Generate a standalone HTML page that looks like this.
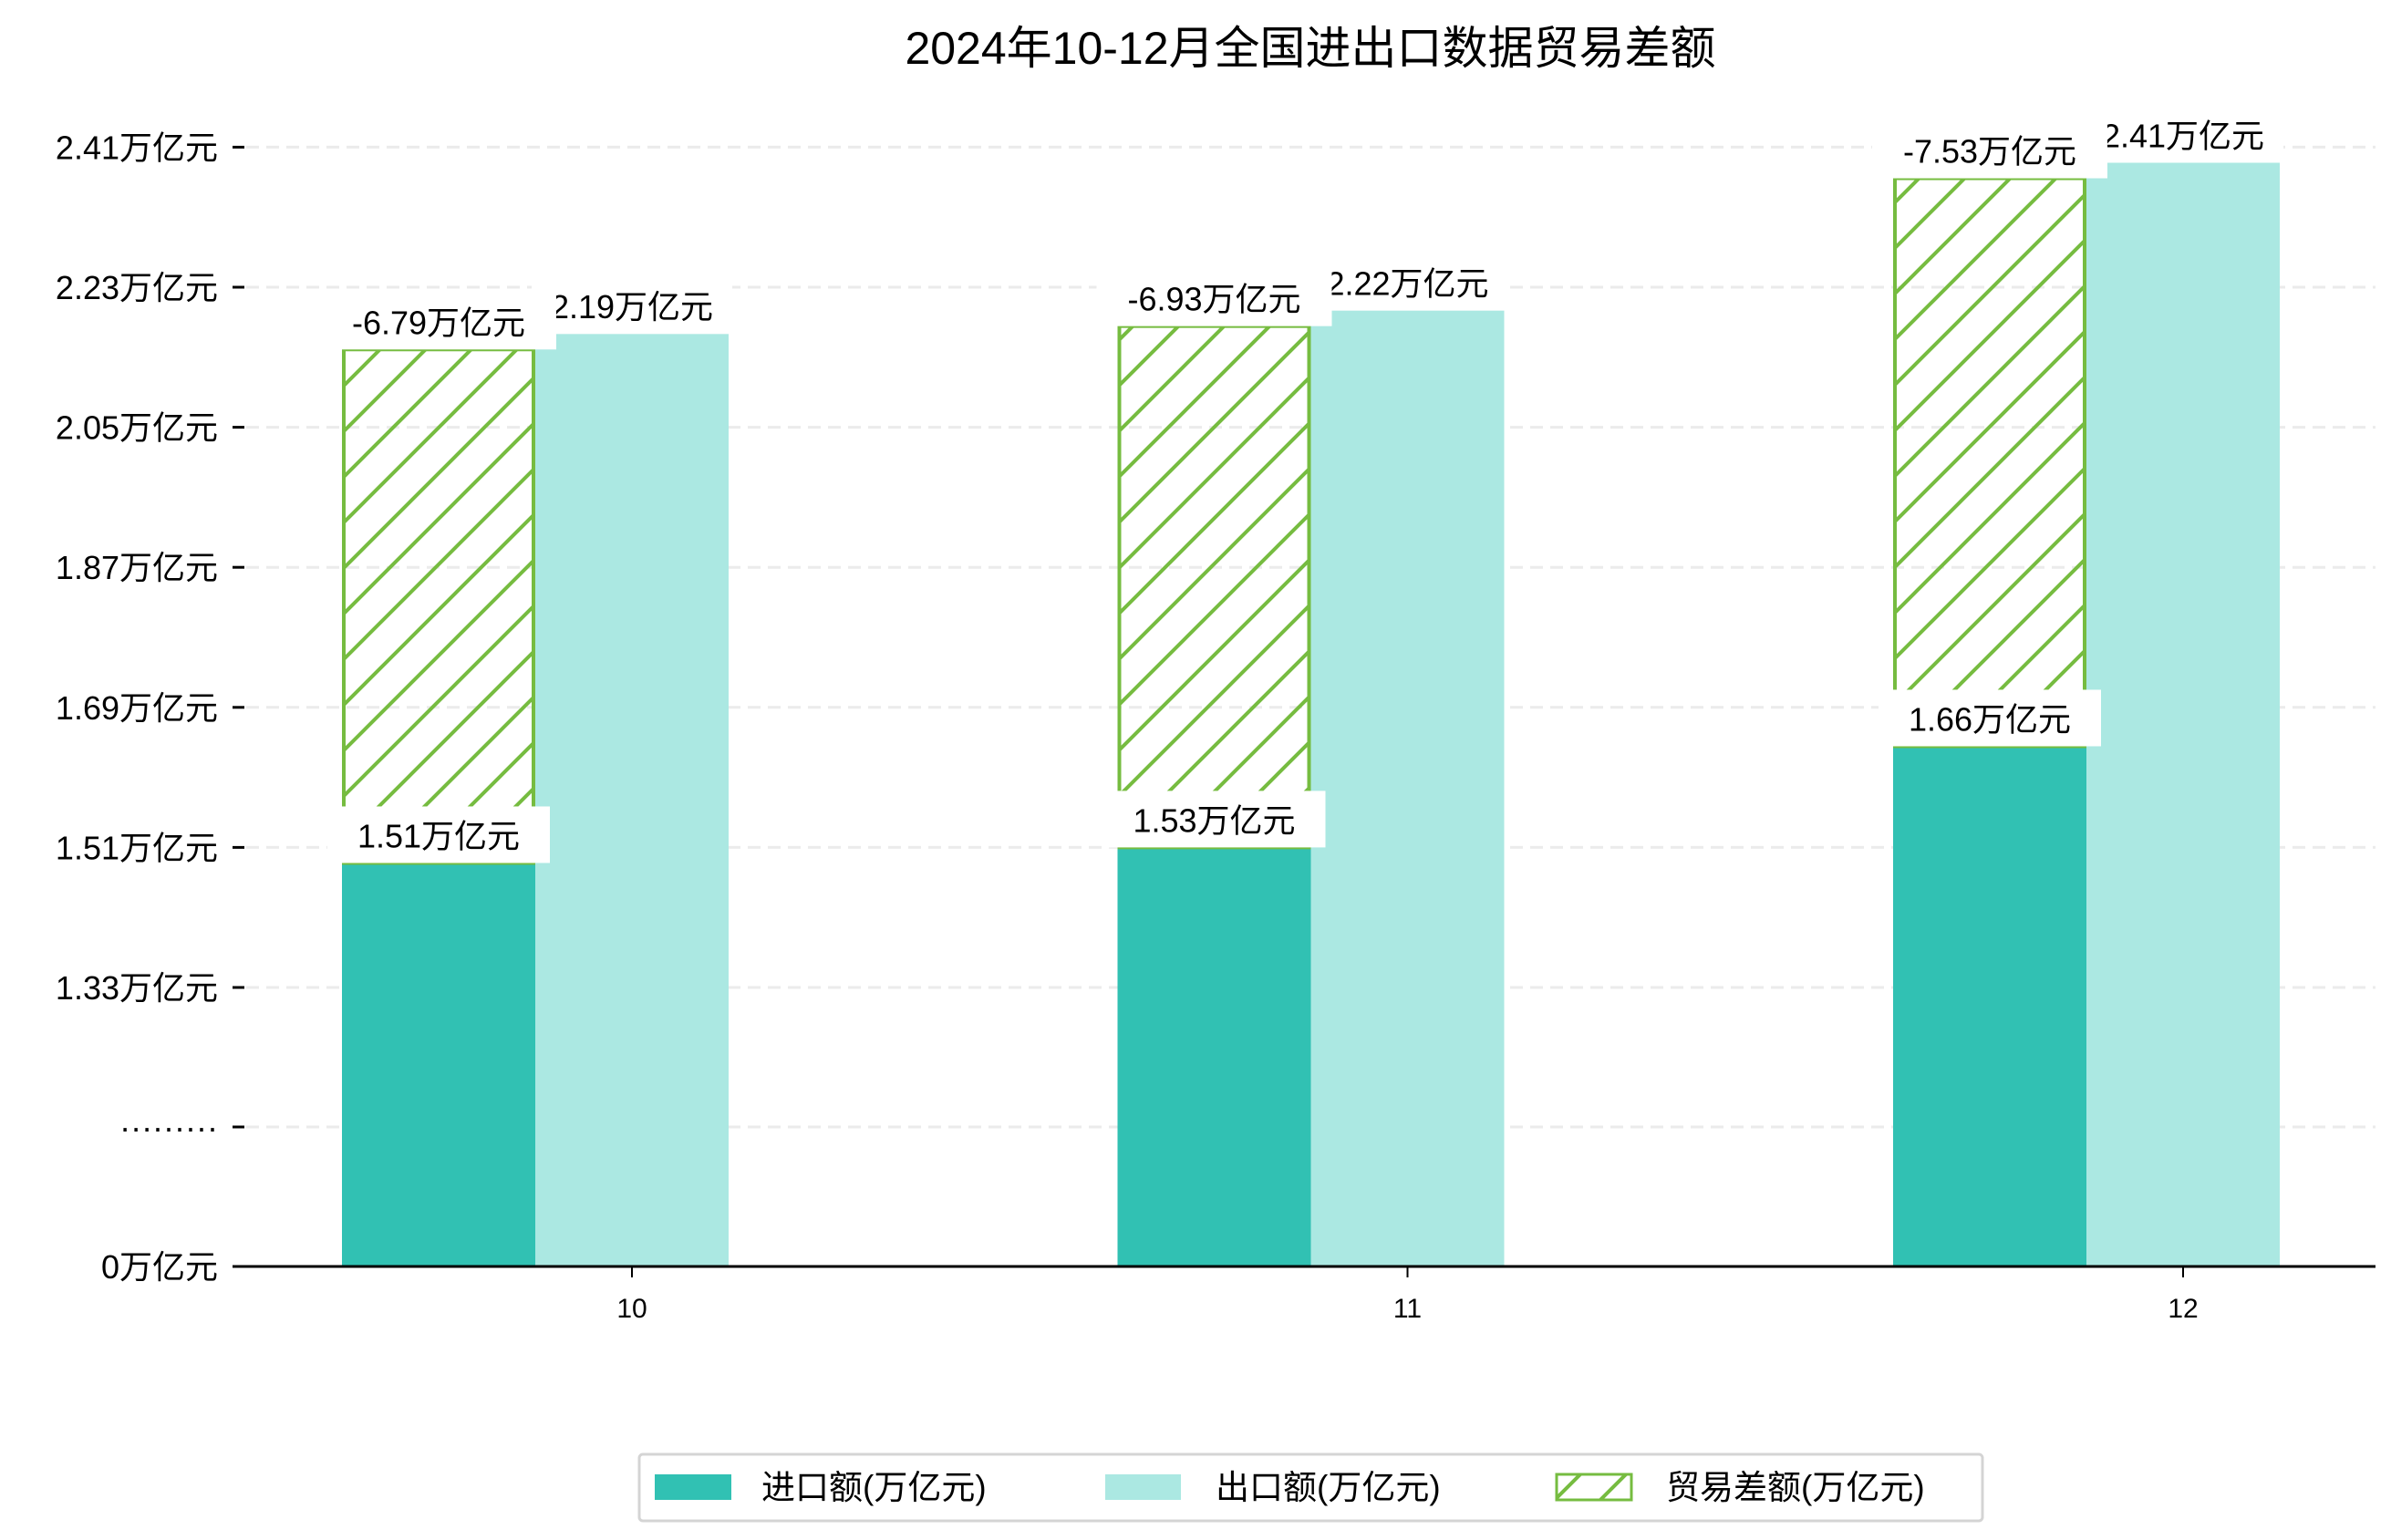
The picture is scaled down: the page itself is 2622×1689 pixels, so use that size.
<!DOCTYPE html>
<html><head><meta charset="utf-8"><style>
html,body{margin:0;padding:0;background:#fff;}
svg{display:block;font-family:"Liberation Sans","Noto Sans CJK SC",sans-serif;}
</style></head><body>
<svg id="chart" width="2622" height="1689" viewBox="0 0 2622 1689" xmlns="http://www.w3.org/2000/svg">
<defs>
<pattern id="hatch" patternUnits="userSpaceOnUse" width="50" height="50">
<path d="M-10,10 L10,-10 M0,50 L50,0 M40,60 L60,40" stroke="#76bc40" stroke-width="4"/>
</pattern>
</defs>
<text x="1437" y="70" text-anchor="middle" font-size="50" fill="#000">2024年10-12月全国进出口数据贸易差额</text>
<g id="grid"></g>
<g id="bars"></g>
<g id="labels"></g>
<g id="axes"></g>
<g>
<rect x="701" y="1595" width="1473" height="73" rx="4" fill="#fff" stroke="#d4d4d4" stroke-width="3"/>
<rect x="718" y="1617" width="84" height="28" fill="#31c1b3"/>
<text x="835" y="1644" font-size="37">进口额(万亿元)</text>
<rect x="1212" y="1617" width="83" height="28" fill="#abe8e2"/>
<text x="1333" y="1644" font-size="37">出口额(万亿元)</text>
<rect x="1707" y="1617" width="82" height="28" fill="url(#hatch)" stroke="#76bc40" stroke-width="3"/>
<text x="1827" y="1644" font-size="37">贸易差额(万亿元)</text>
</g>
</svg>
<script>
const categories = ["10", "11", "12"];
const imports = [1.49, 1.51, 1.64];
const exports = [2.17, 2.20, 2.39];
const balance = [0.66, 0.67, 0.73];
const importLabels = ["1.51万亿元", "1.53万亿元", "1.66万亿元"];
const exportLabels = ["2.19万亿元", "2.22万亿元", "2.41万亿元"];
const balanceLabels = ["-6.79万亿元", "-6.93万亿元", "-7.53万亿元"];
const tickValues = [0, 0.665, 1.33, 1.51, 1.69, 1.87, 2.05, 2.23, 2.41];
const tickLabels = ["0万亿元", "·········", "1.33万亿元", "1.51万亿元", "1.69万亿元", "1.87万亿元", "2.05万亿元", "2.23万亿元", "2.41万亿元"];

const NS = "http://www.w3.org/2000/svg";
const Y0 = 1389, Y133 = 1083, PER = 153.6 / 0.18;
function y(v) {
  if (v >= 1.33) return Y133 - (v - 1.33) * PER;
  return Y0 - (v / 1.33) * (Y0 - Y133);
}
const BW = 212;
function xc(i) { return 693 + i * 850.5; }
function mk(tag, attrs, parent) {
  const e = document.createElementNS(NS, tag);
  for (const k in attrs) e.setAttribute(k, attrs[k]);
  parent.appendChild(e);
  return e;
}
const grid = document.getElementById("grid");
const bars = document.getElementById("bars");
const labels = document.getElementById("labels");
const axes = document.getElementById("axes");

tickValues.forEach((v, i) => {
  const ty = y(v);
  if (i > 0) {
    const g = mk("line", {x1: 270, x2: 2605, y1: ty, y2: ty, stroke: "#ebebeb", "stroke-width": 3, "stroke-dasharray": "14,8"}, grid);
    
    
  }
  const t = mk("line", {x1: 255, x2: 268, y1: ty, y2: ty, stroke: "#000", "stroke-width": 3}, axes);
  
  
  const l = mk("text", {x: 239, y: ty + 13, "text-anchor": "end", "font-size": 36}, axes);
  l.textContent = tickLabels[i];
  
  
});

function labelBox(txt, cx, bottom, name, w) {
  const g = mk("g", {}, labels);
  
  
  mk("rect", {x: cx - w / 2, y: bottom - 62, width: w, height: 62, fill: "#fff"}, g);
  const t = mk("text", {x: cx, y: bottom - 17, "text-anchor": "middle", "font-size": 36}, g);
  t.textContent = txt;
}

categories.forEach((c, i) => {
  const cx = xc(i);
  const ix = cx - 1.5 * BW, ex = cx - 0.5 * BW;
  const ib = mk("rect", {x: ix, y: y(imports[i]), width: BW, height: Y0 - y(imports[i]), fill: "#31c1b3"}, bars);
  
  
  const eb = mk("rect", {x: ex, y: y(exports[i]), width: BW, height: Y0 - y(exports[i]), fill: "#abe8e2"}, bars);
  
  
  const top = imports[i] + balance[i];
  const hb = mk("rect", {x: ix + 2, y: y(top), width: BW - 4, height: y(imports[i]) - y(top), fill: "url(#hatch)", stroke: "#76bc40", "stroke-width": 4}, bars);
  
  
  labelBox(importLabels[i], cx - BW, y(imports[i]), 'import-value-label', 244);
  labelBox(exportLabels[i], cx, y(exports[i]), 'export-value-label', 220);
  labelBox(balanceLabels[i], cx - BW, y(top), 'balance-value-label', 258);
  const tk = mk("line", {x1: cx, x2: cx, y1: Y0, y2: Y0 + 12, stroke: "#000", "stroke-width": 2}, axes);
  
  
  const xl = mk("text", {x: cx, y: 1445, "text-anchor": "middle", "font-size": 30}, axes);
  xl.textContent = c;
  
  
});
const ax = mk("line", {x1: 255, x2: 2605, y1: Y0, y2: Y0, stroke: "#000", "stroke-width": 3}, axes);


</script>
</body></html>
